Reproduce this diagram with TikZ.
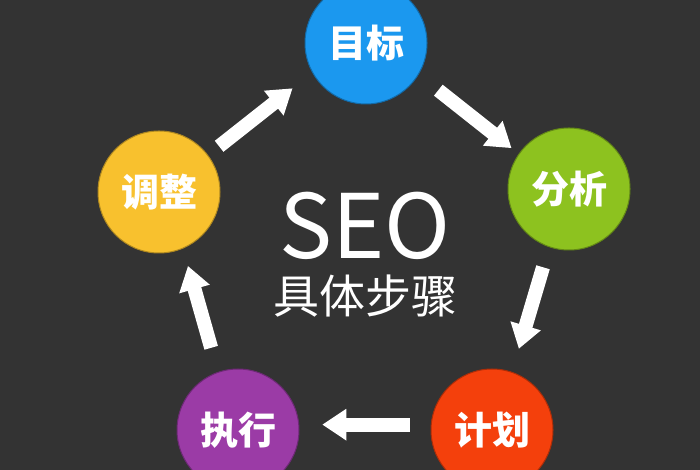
\documentclass[tikz,border=0pt]{standalone}
\usepackage{fontspec}
\setmainfont{Noto Sans CJK SC}
\usetikzlibrary{arrows.meta}
\definecolor{bgdark}{HTML}{333333}
\definecolor{goalblue}{HTML}{1B98EF}
\definecolor{anagreen}{HTML}{8DC21F}
\definecolor{planred}{HTML}{F4400C}
\definecolor{execpurple}{HTML}{9B3BA6}
\definecolor{adjyellow}{HTML}{F8C12E}
\tikzset{
stepnode/.style={
	  circle, fill=#1, draw=#1!70!black, line width=1pt,
	    minimum size=122pt, inner sep=0pt, text=white,
    font=\fontsize{38}{38}\selectfont\bfseries},
flow/.style={white, line width=14pt, -{Triangle[width=30pt,length=24pt]}}
}

\begin{document}
\begin{tikzpicture}[x=1pt, y=1pt]
	\useasboundingbox (0,0) rectangle (700,470);
	\clip (0,0) rectangle (700,470);
	\fill[bgdark] (0,0) rectangle (700,470);
	\node[stepnode=goalblue] (goal) at (366,427) {目标};
	\node[stepnode=anagreen] (analyse) at (569,281) {分析};
	\node[stepnode=planred] (plan) at (492,40) {计划};
	\node[stepnode=execpurple] (exec) at (238,40) {执行};
	\node[stepnode=adjyellow] (adjust) at (159,278) {调整};
	\node[text=white, inner sep=0pt, font=\fontsize{89}{89}\selectfont] (seo) at (365,244) {SEO};
	\node[text=white, inner sep=0pt, font=\fontsize{46}{46}\selectfont] (steps) at (365,174) {具体步骤};
	\draw[flow, shorten <=14pt, shorten >=25pt] (adjust.37) -- (goal.209);
	\draw[flow, shorten <=25pt, shorten >=9pt] (goal.-31) -- (analyse.145);
	\draw[flow, shorten <=21pt, shorten >=24pt] (analyse.251) -- (plan.71);
	\draw[flow, shorten <=21pt, shorten >=23pt] (plan.175) -- (exec.5);
	\draw[flow, shorten <=25pt, shorten >=18pt] (exec.109) -- (adjust.-67);
\end{tikzpicture}
\end{document}
